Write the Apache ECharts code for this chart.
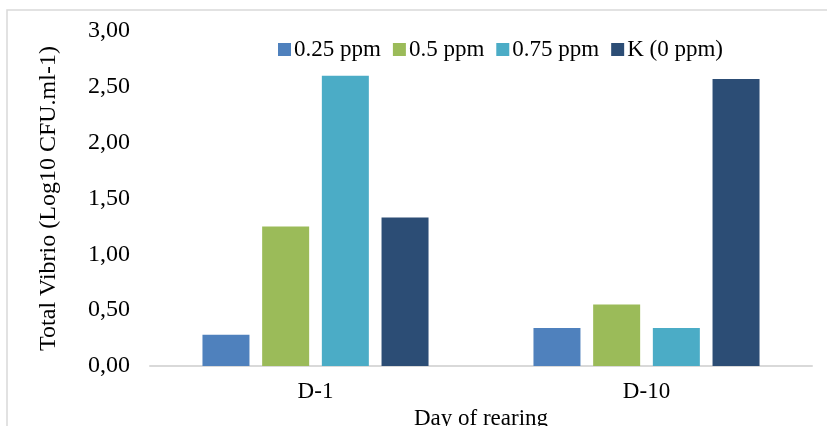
<!DOCTYPE html>
<html>
<head>
<meta charset="utf-8">
<script src="https://cdn.jsdelivr.net/npm/echarts@6/dist/echarts.min.js"></script>
<style>
html,body{margin:0;padding:0;background:#fff;}
#chart{width:827px;height:426px;}
</style>
</head>
<body>
<div id="chart"></div>
<script>
var categories = ['D-1', 'D-10'];
var seriesNames = ['0.25 ppm', '0.5 ppm', '0.75 ppm', 'K (0 ppm)'];
var v025 = [0.28, 0.34];
var v05 = [1.25, 0.55];
var v075 = [2.60, 0.34];
var vK = [1.33, 2.57];
var colors = ['#4F81BD', '#9BBB59', '#4BACC6', '#2C4D75'];

var FONT = '"Liberation Serif", "Times New Roman", serif';
var FS = 23;
var chart = echarts.init(document.getElementById('chart'));
var values = [v025, v05, v075, vK];
var series = seriesNames.map(function (n, i) {
  return {
    name: n,
    type: 'bar',
    data: values[i],
    barWidth: 47,
    barGap: '27%',
    itemStyle: { color: colors[i] }
  };
});
chart.setOption({
  animation: false,
  color: colors,
  textStyle: { fontFamily: FONT },
  graphic: [{
    type: 'rect',
    shape: { x: 7, y: 10, width: 900, height: 500 },
    style: { fill: 'none', stroke: '#D9D9D9', lineWidth: 1.5 },
    silent: true
  }],
  legend: {
    left: 273,
    top: 33,
    itemWidth: 13,
    itemHeight: 13,
    itemGap: 12,
    icon: 'rect',
    textStyle: { fontFamily: FONT, fontSize: FS, color: '#000', padding: [0, 0, 0, -2] },
    data: seriesNames
  },
  grid: { left: 150, right: 15, top: 31, bottom: 60, containLabel: false, outerBoundsMode: 'none' },
  xAxis: {
    type: 'category',
    data: categories,
    name: 'Day of rearing',
    nameLocation: 'middle',
    nameGap: 41,
    nameTextStyle: { fontFamily: FONT, fontSize: FS, color: '#000' },
    axisLine: { lineStyle: { color: '#D9D9D9', width: 2 } },
    axisTick: { show: false },
    axisLabel: { fontFamily: FONT, fontSize: FS, color: '#000', margin: 14 }
  },
  yAxis: {
    type: 'value',
    min: 0,
    max: 3,
    interval: 0.5,
    name: 'Total Vibrio (Log10 CFU.ml-1)',
    nameLocation: 'middle',
    nameGap: 89,
    nameTextStyle: { fontFamily: FONT, fontSize: 24, color: '#000' },
    axisLine: { show: false },
    axisTick: { show: false },
    splitLine: { show: false },
    axisLabel: {
      fontFamily: FONT, fontSize: 24, color: '#000', margin: 20,
      formatter: function (v) { return v.toFixed(2).replace('.', ','); }
    }
  },
  series: series
});
</script>
</body>
</html>
